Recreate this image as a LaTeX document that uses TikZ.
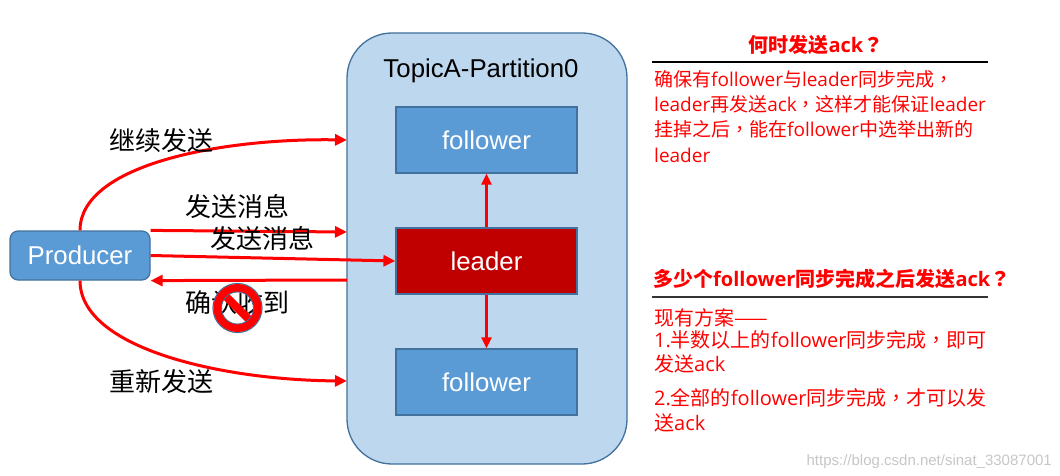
\documentclass[tikz,border=0pt]{standalone}
\usepackage{fontspec}
\setmainfont{Liberation Sans}
\newfontfamily\cjk{Noto Sans CJK SC}
\newfontfamily\cjkp{Noto Sans CJK TC}
\newfontfamily\lat{Open Sans}
\usetikzlibrary{arrows.meta,calc}
\newcommand\zh[1]{{\cjk #1}}
\newcommand\zp[1]{{\cjkp #1}}
\definecolor{partfill}{HTML}{BDD7EE}
\definecolor{boxblue}{HTML}{5B9BD5}
\definecolor{boxedge}{HTML}{41719C}
\definecolor{leadred}{HTML}{C00000}
\definecolor{arrred}{HTML}{FF0000}
\begin{document}
\begin{tikzpicture}[x=1pt,y=-1pt,
  fs/.style={font=\fontsize{25.8}{30}\selectfont},
  box/.style={draw=boxedge,line width=1.2pt,fill=boxblue,minimum width=181pt,minimum height=66pt,inner sep=0pt,text=white,fs},
  flow/.style={draw=arrred,line width=3pt,-{Triangle[length=12pt,width=11pt]}},
  lbl/.style={font=\cjk\fontsize{26}{30}\selectfont,inner sep=0pt},
  note/.style={text=arrred,anchor=base west,inner sep=0pt,font=\lat\fontsize{19}{22}\selectfont},
  noteb/.style={note,font=\lat\fontsize{20}{24}\selectfont},
  notetitle/.style={text=arrred,inner sep=0pt,font=\lat\bfseries\fontsize{20}{24}\selectfont},
  rulestyle/.style={line width=2pt}
]
\useasboundingbox (0,0) rectangle (1060,476);
\fill[white] (0,0) rectangle (1060,476);

% partition container
\node[draw=boxedge,line width=1.3pt,fill=partfill,rounded corners=45pt,minimum width=280pt,minimum height=431pt,inner sep=0pt] (part) at (487,248.5) {};
\node[fs,inner sep=0pt] (ptitle) at (481,71) {TopicA-Partition0};

\node[box] (f1) at (486.5,140) {follower};
\node[box,fill=leadred] (lead) at (486.5,261) {leader};
\node[box] (f2) at (486.5,382) {follower};

\draw[flow,-{Triangle[length=11pt,width=10pt]},line width=2.5pt] (lead.north) -- (f1.south);
\draw[flow,-{Triangle[length=11pt,width=10pt]},line width=2.5pt] (lead.south) -- (f2.north);

% producer
\node[draw=boxedge,line width=1.2pt,fill=boxblue,rounded corners=8pt,minimum width=140pt,minimum height=49pt,inner sep=0pt,text=white,fs] (prod) at (80,255.5) {Producer};

\coordinate (c1) at (347,140);
\coordinate (c2) at (347,232);
\coordinate (c3) at (347,280);
\coordinate (c4) at (347,381);

\draw[flow] (prod.north) .. controls (80,165) and (220,138) .. (c1);
\draw[flow] (prod.north east) -- (c2);
\draw[flow] (prod.east) -- (lead.west);
\draw[flow] (c3) -- (prod.south east);
\draw[flow] (prod.south) .. controls (80,348) and (220,380) .. (c4);

\node[lbl] (l1) at (161.5,141) {继续发送};
\node[lbl] (l2) at (237.5,207) {发送消息};
\node[lbl] (l3) at (262.5,239) {发送消息};
\node[lbl] (l4) at (237.5,303) {确认收到};
\node[lbl] (l5) at (161.5,382) {重新发送};

% no-entry sign
\coordinate (ns) at (237.5,308);
\draw[boxedge,line width=1.2pt] (ns) circle[radius=24.5pt];
\draw[arrred,line width=8pt] (ns) circle[radius=20pt];
\draw[arrred,line width=8pt] ($(ns)+(135:19pt)$) -- ($(ns)+(-45:19pt)$);
\draw[boxedge,line width=0.8pt] (ns) circle[radius=16pt];

% right notes, block 1
\node[notetitle,anchor=base] (t1) at (816,53) {\zh{何时发送}ack\zp{？}};
\draw[rulestyle] (652,62) -- (988,62);
\node[note] (n1) at (654,87) {\zh{确保有}follower\zh{与}leader\zh{同步完成}\zp{，}};
\node[note] (n2) at (654,112) {leader\zh{再发送}ack\zp{，}\zh{这样才能保证}leader};
\node[note] (n3) at (654,137) {\zh{挂掉之后}\zp{，}\zh{能在}follower\zh{中选举出新的}};
\node[note] (n4) at (654,162) {leader};

% right notes, block 2
\node[notetitle,anchor=base west] (t2) at (653,286) {\zh{多少个}follower\zh{同步完成之后发送}ack\zp{？}};
\draw[rulestyle,draw=black!80] (652,297) -- (988,297);
\node[noteb] (m1) at (654,325) {\zh{现有方案——}};
\node[noteb] (m2) at (654,347) {1.\zh{半数以上的}follower\zh{同步完成}\zp{，}\zh{即可}};
\node[noteb] (m3) at (654,371) {\zh{发送}ack};
\node[noteb] (m4) at (654,405) {2.\zh{全部的}follower\zh{同步完成}\zp{，}\zh{才可以发}};
\node[noteb] (m5) at (654,430) {\zh{送}ack};

\node[anchor=base east,inner sep=0pt,text=black!22,font=\fontsize{15}{18}\selectfont] (wm) at (1052,465) {https://blog.csdn.net/sinat\_33087001};
\end{tikzpicture}
\end{document}
